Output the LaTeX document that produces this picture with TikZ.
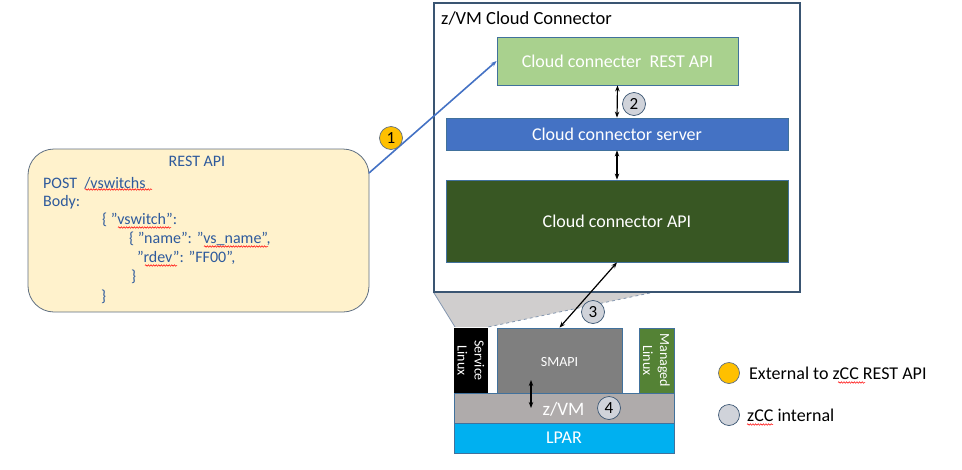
\documentclass[tikz,border=0pt]{standalone}
\usepackage{fontspec}
\setmainfont{Carlito}
\usetikzlibrary{arrows.meta,decorations.pathmorphing}
\newcommand\dq{\symbol{34}}
\definecolor{outerc}{HTML}{3A5572}
\definecolor{bordc}{HTML}{41719C}
\definecolor{greenbox}{HTML}{A9D18E}
\definecolor{serverc}{HTML}{4472C4}
\definecolor{apic}{HTML}{385723}
\definecolor{smapic}{HTML}{7F7F7F}
\definecolor{managedc}{HTML}{548235}
\definecolor{zvmc}{HTML}{AFABAB}
\definecolor{lparc}{HTML}{00B0F0}
\definecolor{restfill}{HTML}{FFF2CC}
\definecolor{restbord}{HTML}{5F6F82}
\definecolor{resttext}{HTML}{2E5A9C}
\definecolor{trapfill}{HTML}{D0CECE}
\definecolor{trapline}{HTML}{8497B0}
\definecolor{yellowc}{HTML}{FFC000}
\definecolor{grayc}{HTML}{D0D3DA}
\begin{document}
\begin{tikzpicture}[x=1pt,y=-1pt,
  blk/.style={draw=bordc, line width=0.8pt, inner sep=0pt, text=white, font=\fontsize{18}{21}\selectfont},
  smallw/.style={text=white, font=\fontsize{14}{17}\selectfont, align=center, inner sep=0pt},
  rtxt/.style={anchor=west, text=resttext, font=\fontsize{16}{19}\selectfont, inner sep=0pt},
  numc/.style={circle, draw=outerc, line width=0.7pt, fill=grayc, minimum size=23pt, inner sep=0pt, font=\fontsize{17}{20}\selectfont},
  dbl/.style={{Stealth[length=6pt,width=4.5pt]}-{Stealth[length=6pt,width=4.5pt]}, line width=1.2pt, black},
  squig/.style={draw=red, line width=0.5pt, decorate, decoration={snake, amplitude=0.8pt, segment length=2.6pt}},
  legt/.style={anchor=west, font=\fontsize{18}{21}\selectfont, inner sep=0pt}
]
\path[use as bounding box] (0,0) rectangle (962,469);

% zoom shadow
\fill[trapfill] (434,293) -- (650,293) -- (488,327) -- (455,327) -- cycle;
\draw[trapline, dashed, line width=0.8pt] (650,293) -- (488,327);
\draw[trapline, line width=0.8pt] (434,293) -- (455,327);

% outer box
\node[draw=outerc, line width=1.8pt, minimum width=366pt, minimum height=289pt, inner sep=0pt] (outer) at (617,147.5) {};
\node[anchor=west, inner sep=0pt, font=\fontsize{18.5}{21}\selectfont] (title) at (441,18) {z/VM Cloud Connector};

% inner boxes
\node[blk, fill=greenbox, minimum width=241pt, minimum height=48pt] (rest2) at (617.5,61) {Cloud connecter~ REST API};
\node[blk, fill=serverc, minimum width=342pt, minimum height=32pt] (server) at (617,134) {Cloud connector server};
\node[blk, fill=apic, minimum width=342pt, minimum height=82pt] (api) at (617,221) {Cloud connector API};

\draw[dbl] (rest2.south) -- (server.north);
\draw[dbl] (server.south) -- (api.north);
\node[numc] (n2) at (634,104) {2};

% lower stack
\node[fill=black, minimum width=34pt, minimum height=65pt, inner sep=0pt] (svc) at (471,360.5) {};
\node[smallw, rotate=-90] (svct) at (svc.center) {Service\\Linux};
\node[blk, fill=smapic, minimum width=125pt, minimum height=65pt] (smapi) at (559.5,360.5) {};
\node[smallw] (smapit) at (559.5,362) {SMAPI};
\node[draw=bordc, line width=0.8pt, fill=managedc, minimum width=35pt, minimum height=65pt, inner sep=0pt] (mgd) at (656.5,360.5) {};
\node[smallw, rotate=-90] (mgdt) at (mgd.center) {Managed\\Linux};
\node[blk, fill=zvmc, minimum width=220pt, minimum height=30pt] (zvm) at (564,408) {};
\node[text=white, inner sep=0pt, font=\fontsize{19}{22}\selectfont] (zvmt) at (563.5,409) {z/VM};
\node[blk, fill=lparc, minimum width=220pt, minimum height=30pt] (lpar) at (564,438) {LPAR};
\node[numc] (n4) at (609,408) {4};
\coordinate (a4s) at (531,380);
\coordinate (a4e) at (531,408);
\draw[dbl] (a4s) -- (a4e);

\draw[dbl] (api.south) -- (smapi.north);
\node[numc] (n3) at (593,312) {3};

% REST API request box
\node[draw=restbord, line width=0.8pt, fill=restfill, rounded corners=26pt, minimum width=341pt, minimum height=163pt, inner sep=0pt] (restbox) at (198.5,230.5) {};
\node[text=resttext, font=\fontsize{16}{19}\selectfont, inner sep=0pt] (t0) at (197,161) {REST API};
\node[rtxt] (t1) at (43,183) {POST~ /vswitchs};
\node[rtxt] (t2) at (43,202) {Body:};
\node[rtxt] (t3) at (102,220) {\{ \dq vswitch\dq :};
\node[rtxt] (t4) at (129,239) {\{ \dq name\dq : \dq vs\_name\dq ,};
\node[rtxt] (t5) at (137,258) {\dq rdev\dq : \dq FF00\dq ,};
\node[rtxt] (t6) at (131,277) {\}};
\node[rtxt] (t7) at (101,297) {\}};
\draw[squig] (85,189.5) -- (152,189.5);
\draw[squig] (118,227.5) -- (171,227.5);
\draw[squig] (204,246.5) -- (268,246.5);
\draw[squig] (145,265.5) -- (177,265.5);

% arrow 1
\coordinate (a1s) at (369,173);
\draw[-{Stealth[length=6pt,width=4.5pt]}, serverc, line width=1.6pt] (a1s) -- (rest2.west);
\node[numc, fill=yellowc, draw=restbord] (n1) at (391,138) {1};

% legend
\node[circle, draw=restbord, line width=0.7pt, fill=yellowc, minimum size=21pt, inner sep=0pt] (l1) at (729,373) {};
\node[legt] (l1t) at (749,373) {External to zCC REST API};
\node[circle, draw=outerc, line width=0.7pt, fill=grayc, minimum size=21pt, inner sep=0pt] (l2) at (729,415) {};
\node[legt] (l2t) at (747,415) {zCC internal};
\draw[squig] (838,382.5) -- (865,382.5);
\draw[squig] (747,424.5) -- (773,424.5);
\end{tikzpicture}
\end{document}
